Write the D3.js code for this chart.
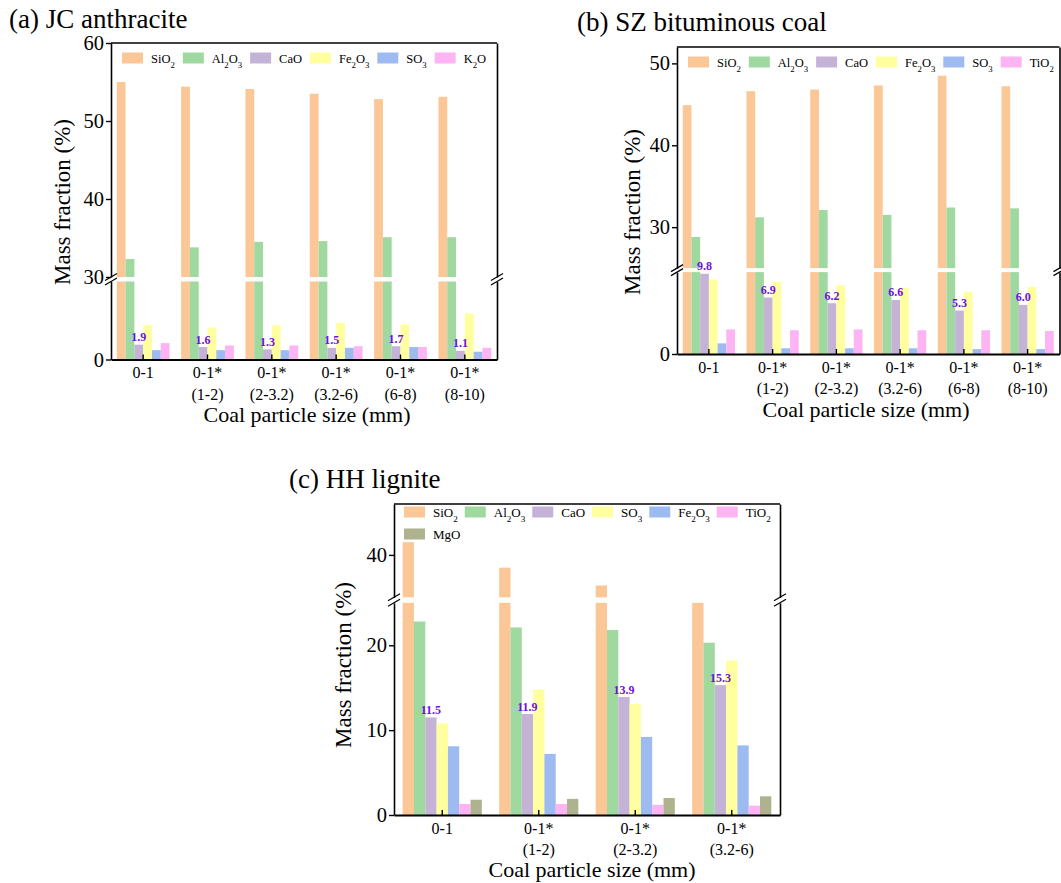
<!DOCTYPE html>
<html>
<head>
<meta charset="utf-8">
<script src="https://cdn.jsdelivr.net/npm/d3@7"></script>
<style>
  body { margin: 0; background: #fff; }
  svg { display: block; }
  svg text, svg tspan { font-family: "Liberation Serif", "Times New Roman", Times, "DejaVu Serif", serif; }
</style>
</head>
<body>
<script>
// ---------------- DATA ----------------
const categoriesAB = ["0-1", "0-1*\n(1-2)", "0-1*\n(2-3.2)", "0-1*\n(3.2-6)", "0-1*\n(6-8)", "0-1*\n(8-10)"];
const categoriesC = ["0-1", "0-1*\n(1-2)", "0-1*\n(2-3.2)", "0-1*\n(3.2-6)"];

const seriesA = ["SiO2", "Al2O3", "CaO", "Fe2O3", "SO3", "K2O"];
const seriesB = ["SiO2", "Al2O3", "CaO", "Fe2O3", "SO3", "TiO2"];
const seriesC = ["SiO2", "Al2O3", "CaO", "SO3", "Fe2O3", "TiO2", "MgO"];

const colors = ["#FBC797", "#9FD99F", "#C4B2D7", "#FFFF9F", "#9DBBF1", "#FCB4F3", "#AEB28E"];

// (a) JC anthracite
const sio2A  = [55.0, 54.4, 54.1, 53.5, 52.8, 53.1];
const al2o3A = [32.3, 33.8, 34.5, 34.6, 35.1, 35.1];
const caoA   = [1.9, 1.6, 1.3, 1.5, 1.7, 1.1];
const fe2o3A = [4.4, 4.1, 4.4, 4.7, 4.5, 5.9];
const so3A   = [1.2, 1.2, 1.2, 1.5, 1.6, 1.0];
const k2oA   = [2.1, 1.8, 1.8, 1.7, 1.6, 1.5];

// (b) SZ bituminous coal
const sio2B  = [44.9, 46.6, 46.8, 47.3, 48.5, 47.2];
const al2o3B = [28.8, 31.2, 32.1, 31.5, 32.4, 32.3];
const caoB   = [9.8, 6.9, 6.2, 6.6, 5.3, 6.0];
const fe2o3B = [9.1, 8.8, 8.4, 8.1, 7.6, 8.2];
const so3B   = [1.3, 0.7, 0.7, 0.7, 0.6, 0.6];
const tio2B  = [3.0, 2.9, 3.0, 2.9, 2.9, 2.8];

// (c) HH lignite
const sio2C  = [41.5, 38.5, 36.4, 33.0];
const al2o3C = [22.8, 22.1, 21.8, 20.3];
const caoC   = [11.5, 11.9, 13.9, 15.3];
const so3C   = [10.8, 14.8, 13.1, 18.2];
const fe2o3C = [8.1, 7.2, 9.2, 8.2];
const tio2C  = [1.3, 1.3, 1.2, 1.1];
const mgoC   = [1.8, 1.9, 2.0, 2.2];

// axis segments (broken axes) and ticks
const segDomainsA = [[0, 10], [30, 60]];
const segTicksA   = [[0], [30, 40, 50, 60]];
const segDomainsB = [[0, 10], [25, 52]];
const segTicksB   = [[0], [30, 40, 50]];
const segDomainsC = [[0, 25], [35, 46]];
const segTicksC   = [[0, 10, 20], [40]];

const titles = ["(a) JC anthracite", "(b) SZ bituminous coal", "(c) HH lignite"];
const yTitle = "Mass fraction (%)";
const xTitle = "Coal particle size (mm)";

// ---------------- DRAW ----------------
const FONT = "Liberation Serif, Times New Roman, serif";
const svg = d3.select("body").append("svg")
  .attr("width", 1061).attr("height", 883)
  .style("background", "#fff");

function formula(sel, name) {
  name.split(/(\d+)/).filter(p => p !== "").forEach(p => {
    if (/^\d+$/.test(p)) sel.append("tspan").attr("baseline-shift", "sub").attr("font-size", "70%").text(p);
    else sel.append("tspan").text(p);
  });
}

function drawPanel(cfg) {
  const g = svg.append("g");
  const { left, right, top, bottom, gap } = cfg;
  const spans = cfg.segDomains.map(d => d[1] - d[0]);
  const k = (bottom - top - gap * (spans.length - 1)) / d3.sum(spans);
  let yStart = bottom;
  const segs = cfg.segDomains.map((d, i) => {
    const r0 = yStart, r1 = yStart - spans[i] * k;
    yStart = r1 - gap;
    return { domain: d, ticks: cfg.segTicks[i], scale: d3.scaleLinear().domain(d).range([r0, r1]) };
  });

  const x0 = d3.scaleBand().domain(cfg.categories).range([left, right])
    .paddingInner(0.18).paddingOuter(0.09);
  const x1 = d3.scaleBand().domain(cfg.series).range([0, x0.bandwidth()]).padding(0);

  // bars, split across segments
  const pieces = [];
  cfg.series.forEach((s, j) => {
    cfg.categories.forEach((c, i) => {
      const v = cfg.values[j][i];
      segs.forEach(seg => {
        if (v > seg.domain[0]) {
          pieces.push({ c, s, j, y0: seg.scale(seg.domain[0]), y1: seg.scale(Math.min(v, seg.domain[1])) });
        }
      });
    });
  });
  g.append("g").selectAll("rect").data(pieces).join("rect")
    .attr("x", d => x0(d.c) + x1(d.s))
    .attr("width", x1.bandwidth())
    .attr("y", d => d.y1)
    .attr("height", d => d.y0 - d.y1)
    .attr("fill", d => colors[d.j]);

  // value labels on the CaO series
  const li = cfg.labelSeries;
  g.append("g").selectAll("text").data(cfg.categories).join("text")
    .attr("x", c => x0(c) + x1(cfg.series[li]) + x1.bandwidth() / 2)
    .attr("y", (c, i) => segs[0].scale(cfg.values[li][i]) - 3.5)
    .attr("text-anchor", "middle")
    .attr("font-weight", "bold")
    .attr("font-size", 12)
    .attr("fill", "#7010E0")
    .text((c, i) => d3.format(".1f")(cfg.values[li][i]));

  // frame: left & right broken axes
  segs.forEach(seg => {
    const ax = g.append("g").attr("transform", `translate(${left},0)`)
      .call(d3.axisLeft(seg.scale).tickValues(seg.ticks).tickSizeInner(5).tickSizeOuter(0).tickPadding(2));
    ax.attr("font-family", FONT);
    ax.select(".domain").attr("stroke-width", 1.6);
    ax.selectAll(".tick line").attr("stroke-width", 1.4);
    ax.selectAll(".tick text").attr("font-size", 20.5).attr("fill", "#000");
    const axr = g.append("g").attr("transform", `translate(${right},0)`)
      .call(d3.axisRight(seg.scale).tickValues([]).tickSizeOuter(0));
    axr.select(".domain").attr("stroke-width", 1.6);
  });
  // top line
  g.append("line").attr("x1", left).attr("x2", right).attr("y1", top).attr("y2", top)
    .attr("stroke", "#000").attr("stroke-width", 1.6);

  // break marks
  const breaks = [segs[0].scale.range()[1], segs[1].scale.range()[0]];
  [left, right].forEach(xx => {
    breaks.forEach(yy => {
      g.append("line").attr("x1", xx - 6).attr("y1", yy + 3.5).attr("x2", xx + 6).attr("y2", yy - 3.5)
        .attr("stroke", "#000").attr("stroke-width", 1.2);
    });
  });

  // bottom axis
  const bx = g.append("g").attr("transform", `translate(0,${bottom})`)
    .call(d3.axisBottom(x0).tickSizeInner(-5).tickSizeOuter(0).tickFormat(""));
  bx.attr("font-family", FONT);
  bx.select(".domain").attr("stroke-width", 2);
  bx.selectAll(".tick line").attr("stroke-width", 1.4);
  bx.selectAll(".tick").each(function (c) {
    const t = d3.select(this).append("text")
      .attr("text-anchor", "middle").attr("font-size", 16).attr("fill", "#000");
    c.split("\n").forEach((line, i) => {
      t.append("tspan").attr("x", 0).attr("y", i === 0 ? 18.5 : 40).text(line);
    });
  });

  // titles
  g.append("text").attr("x", cfg.titleX).attr("y", cfg.titleY)
    .attr("font-size", 27).text(cfg.title);
  g.append("text").attr("transform", `translate(${cfg.yTitleX},${cfg.yTitleY}) rotate(-90)`)
    .attr("text-anchor", "middle").attr("dy", "0.35em").attr("font-size", 23).text(yTitle);
  g.append("text").attr("x", cfg.xTitleX).attr("y", bottom + cfg.xTitleDy)
    .attr("text-anchor", "middle").attr("font-size", 22).text(xTitle);

  // legend
  const lg = g.append("g").attr("font-size", cfg.legendFont);
  let lx = cfg.legendX, ly = cfg.legendY, n = 0;
  cfg.series.forEach((s, j) => {
    if (n === cfg.perRow) { lx = cfg.legendX; ly += 22; n = 0; }
    lg.append("rect").attr("x", lx).attr("y", ly - 5.5).attr("width", 21).attr("height", 11).attr("fill", colors[j]);
    const t = lg.append("text").attr("x", lx + 29).attr("y", ly + 4.5);
    formula(t, s);
    const w = t.node().getComputedTextLength();
    lx += 29 + w + cfg.legendGap;
    n++;
  });
}

drawPanel({
  left: 111, right: 497, top: 43, bottom: 359.5, gap: 4.5,
  segDomains: segDomainsA, segTicks: segTicksA,
  categories: categoriesAB, series: seriesA,
  values: [sio2A, al2o3A, caoA, fe2o3A, so3A, k2oA], labelSeries: 2,
  title: titles[0], titleX: 9, titleY: 28,
  yTitleX: 62, yTitleY: 202, xTitleX: 307, xTitleDy: 62,
  legendX: 122, legendY: 58, legendGap: 8, legendFont: 12.5, perRow: 6
});

drawPanel({
  left: 677, right: 1059.5, top: 47, bottom: 354, gap: 4,
  segDomains: segDomainsB, segTicks: segTicksB,
  categories: categoriesAB, series: seriesB,
  values: [sio2B, al2o3B, caoB, fe2o3B, so3B, tio2B], labelSeries: 2,
  title: titles[1], titleX: 577, titleY: 31,
  yTitleX: 632, yTitleY: 212, xTitleX: 866, xTitleDy: 63,
  legendX: 688, legendY: 62, legendGap: 8, legendFont: 12.5, perRow: 6
});

drawPanel({
  left: 394, right: 780, top: 504, bottom: 815, gap: 5.5,
  segDomains: segDomainsC, segTicks: segTicksC,
  categories: categoriesC, series: seriesC,
  values: [sio2C, al2o3C, caoC, so3C, fe2o3C, tio2C, mgoC], labelSeries: 2,
  title: titles[2], titleX: 289, titleY: 488,
  yTitleX: 343, yTitleY: 665, xTitleX: 592, xTitleDy: 62,
  legendX: 404, legendY: 512, legendGap: 7, legendFont: 13, perRow: 6
});
</script>
</body>
</html>
